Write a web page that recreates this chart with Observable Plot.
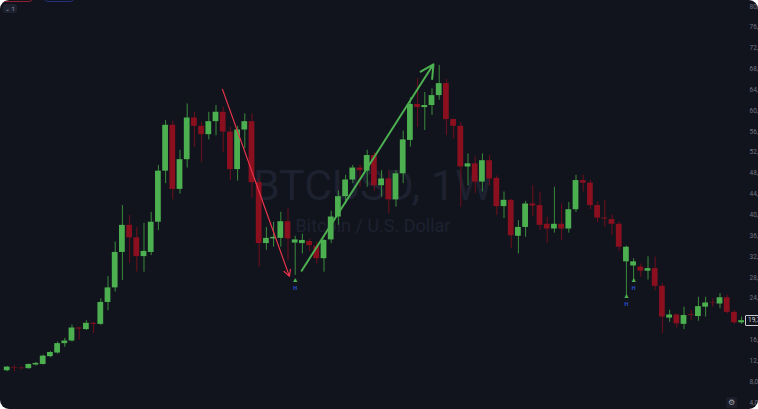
<!DOCTYPE html>
<html>
<head>
<meta charset="utf-8">
<script src="https://cdn.jsdelivr.net/npm/d3@7"></script>
<script src="https://cdn.jsdelivr.net/npm/@observablehq/plot@0.6"></script>
<style>
  html, body { margin: 0; padding: 0; background: #ffffff; }
  #wrap { position: relative; width: 758px; height: 409px; background: #12141d; border-radius: 9px; overflow: hidden; font-family: Roboto, "Liberation Sans", sans-serif; }
  #wrap svg { position: absolute; left: 0; top: 0; overflow: visible; }
  .tab-red { position: absolute; left: -6px; top: -12px; width: 38px; height: 12px; border: 1.5px solid #8c1f30; border-radius: 5px; }
  .tab-blue { position: absolute; left: 43px; top: -12px; width: 30px; height: 12px; border: 1.5px solid #23307a; border-radius: 5px; }
  .btn { position: absolute; left: 3px; top: 4px; width: 14px; height: 9px; background: #1e2130; border-radius: 3px; color: #9598a1; font-size: 6px; line-height: 9px; text-align: center; }
  .gear { position: absolute; left: 726px; top: 397px; width: 11px; height: 11px; background: #1b1e2a; border-radius: 2px; color: #a0a3ab; font-size: 8px; line-height: 11px; text-align: center; }
  .price { position: absolute; left: 745px; width: 16px; height: 9px; border: 1px solid #c9cbd1; border-radius: 1px; background: #12141d; color: #d1d4dc; font-size: 6.5px; line-height: 9px; padding-left: 2px; white-space: nowrap; }
</style>
</head>
<body>
<div id="wrap"></div>
<script>
// Weekly BTCUSD candles (values in thousands of USD), week index 0..102
const weeks = d3.range(0, 103);
const open = [10.1,10.7,10.6,10.5,11.2,11.3,12.8,13.5,15.3,15.8,18.3,18.0,19.2,19.0,23.2,26.0,32.8,38.0,35.6,32.0,
  32.8,38.6,48.4,57.2,44.9,50.6,58.6,57.0,55.4,57.9,59.7,55.9,48.7,56.3,57.9,46.2,34.5,35.4,35.5,38.7,
  34.6,34.5,34.9,34.0,31.6,35.2,39.6,43.5,46.7,49.0,48.4,51.4,45.6,46.9,42.9,47.9,54.3,61.2,60.6,61.0,
  62.9,65.2,58.3,57.0,49.2,49.8,46.3,50.4,47.0,41.6,42.8,35.9,37.6,42.1,41.8,38.2,37.3,38.2,37.3,41.0,
  46.6,46.1,41.8,39.4,39.1,38.2,31.0,30.2,30.0,29.2,29.7,26.3,20.2,20.8,19.0,20.85,20.5,22.3,23.15,22.9,
  24.1,21.3,19.3];
const high = [10.9,11.1,10.8,11.4,11.7,13.1,13.8,15.6,16.3,18.9,18.4,19.7,19.4,23.9,28.2,34.8,41.8,39.9,37.6,38.4,
  40.5,49.5,58.1,58.0,52.4,61.3,59.7,57.8,59.7,61.0,60.7,56.8,57.0,59.4,59.4,47.0,37.6,38.6,40.5,41.2,
  35.9,36.3,35.3,34.8,35.3,40.7,44.6,47.6,49.5,49.6,52.4,52.0,48.5,48.5,48.5,56.1,62.5,66.1,63.5,64.2,
  68.7,66.0,58.4,57.8,51.7,51.1,51.7,51.4,47.5,44.4,43.0,38.9,42.6,45.6,44.4,39.6,45.3,42.1,42.4,47.6,
  47.6,46.6,42.5,42.8,40.0,38.6,34.0,31.6,30.6,32.0,31.9,26.8,21.7,21.0,22.3,21.7,24.2,24.2,23.9,24.9,
  24.6,21.6,20.4];
const low = [9.9,9.9,10.3,10.4,11.0,11.2,12.6,13.3,14.6,15.6,16.0,17.8,17.2,18.8,21.6,25.2,27.4,30.7,29.0,29.0,
  32.2,37.0,46.0,42.9,44.0,49.0,53.0,50.1,54.4,55.2,52.0,46.6,46.5,52.7,43.1,30.0,33.2,33.8,33.8,31.2,
  28.4,32.5,33.0,30.6,29.0,34.5,38.0,42.0,46.0,45.3,45.3,44.5,43.4,40.2,41.5,46.0,53.0,56.8,56.2,59.1,
  62.0,55.2,54.6,41.5,45.6,44.1,44.4,45.5,39.9,39.3,33.5,32.5,35.7,39.6,37.0,34.5,36.5,35.1,36.5,40.5,
  44.4,41.0,38.5,37.6,36.0,33.0,24.2,27.4,28.0,27.5,25.5,17.2,19.4,18.3,18.0,19.7,19.6,20.4,22.3,22.0,
  21.0,19.0,19.0];
const close = [10.8,10.6,10.5,11.3,11.5,12.9,13.6,15.3,15.8,18.3,18.1,19.2,19.0,23.2,26.0,32.8,38.0,35.6,32.0,33.0,
  38.6,48.4,57.2,44.9,50.6,58.6,57.0,55.4,57.9,59.7,55.9,48.7,56.3,57.9,46.2,34.5,35.5,35.7,38.7,35.4,
  35.2,35.1,34.1,31.6,35.1,39.6,43.5,46.7,49.0,48.5,51.4,45.6,46.9,42.9,47.9,54.4,61.2,60.6,61.0,62.9,
  65.2,58.3,57.0,49.2,49.8,46.3,50.4,46.9,41.6,42.8,36.0,37.6,42.1,41.7,38.0,37.3,38.2,37.3,41.0,46.6,
  46.1,41.8,39.4,39.2,38.2,33.8,33.8,31.0,29.2,29.7,26.3,20.4,20.8,19.1,20.7,20.7,22.4,23.1,23.05,24.1,
  21.3,19.3,19.7];

// Drawn trend arrows: [week, price] start and end
const arrowWeeks1 = [29.9, 39.2];
const arrowPrices1 = [64.1, 28.2];
const arrowWeeks2 = [40.9, 59.2];
const arrowPrices2 = [29.3, 68.9];

// Signal markers
const signalWeeks = [40, 86, 87];
const signalTriangle = [27.6, 24.5, 27.5];
const signalLabel = [26.0, 22.8, 25.9];

// Price axis ticks (thousands)
const yTicks = d3.range(4, 81, 4);

const up = "#4caf50", down = "#8a1020";
const upWick = "#3a8a3d", downWick = "#6e0f1c";

const candles = weeks.map((w, k) => ({
  w, o: open[k], h: high[k], l: low[k], c: close[k], up: close[k] >= open[k]
}));

const plot = Plot.plot({
  width: 758,
  height: 409,
  marginTop: 0, marginBottom: 0, marginLeft: 0, marginRight: 13,
  style: { background: "transparent", overflow: "visible" },
  x: { domain: [-0.93, 102.54], axis: null },
  y: { domain: [2.66, 81.15], axis: null },
  marks: [
    Plot.text(["BTCUSD, 1W"], { frameAnchor: "middle", dy: -19, fontSize: 43, fill: "#1d2130", fontFamily: "Roboto" }),
    Plot.text(["Bitcoin / U.S. Dollar"], { frameAnchor: "middle", dy: 21, fontSize: 18, fill: "#1d2130", fontFamily: "Roboto" }),
    Plot.axisY(yTicks, { anchor: "right", tickSize: 0, tickPadding: 4, fontSize: 6.5, fill: "#6f7380",
      tickFormat: d => d3.format(",")(d * 1000), fontFamily: "Roboto" }),
    Plot.ruleX(candles, { x: "w", y1: "l", y2: "h", stroke: d => d.up ? upWick : downWick, strokeWidth: 1 }),
    Plot.rect(candles, { x1: d => d.w - 0.4, x2: d => d.w + 0.4, y1: "o", y2: "c", fill: d => d.up ? up : down }),
    Plot.arrow([0], { x1: () => arrowWeeks1[0], y1: () => arrowPrices1[0], x2: () => arrowWeeks1[1], y2: () => arrowPrices1[1],
      stroke: "#e8334a", strokeWidth: 1.2, headLength: 9, headAngle: 55 }),
    Plot.arrow([0], { x1: () => arrowWeeks2[0], y1: () => arrowPrices2[0], x2: () => arrowWeeks2[1], y2: () => arrowPrices2[1],
      stroke: "#4caf50", strokeWidth: 2, headLength: 11, headAngle: 55 }),
    Plot.text(signalWeeks, { x: d => d, y: (d, k) => signalTriangle[k], text: () => "▲", fill: "#4caf50", fontSize: 7 }),
    Plot.text(signalWeeks, { x: d => d, y: (d, k) => signalLabel[k], text: () => "H", fill: "#2a4fd0", fontSize: 5.5, fontWeight: "bold" })
  ]
});

const wrap = document.getElementById("wrap");
wrap.appendChild(plot);

const extra = [
  '<div class="tab-red"></div>',
  '<div class="tab-blue"></div>',
  '<div class="btn">⌄ 1</div>',
  '<div class="gear">⚙</div>'
].join("");
wrap.insertAdjacentHTML("beforeend", extra);

const lastClose = close[close.length - 1];
const py = plot.scale("y").apply(lastClose);
const tag = document.createElement("div");
tag.className = "price";
tag.style.top = (py - 5.5) + "px";
tag.textContent = d3.format(",.0f")(lastClose * 1000);
wrap.appendChild(tag);
</script>
</body>
</html>
